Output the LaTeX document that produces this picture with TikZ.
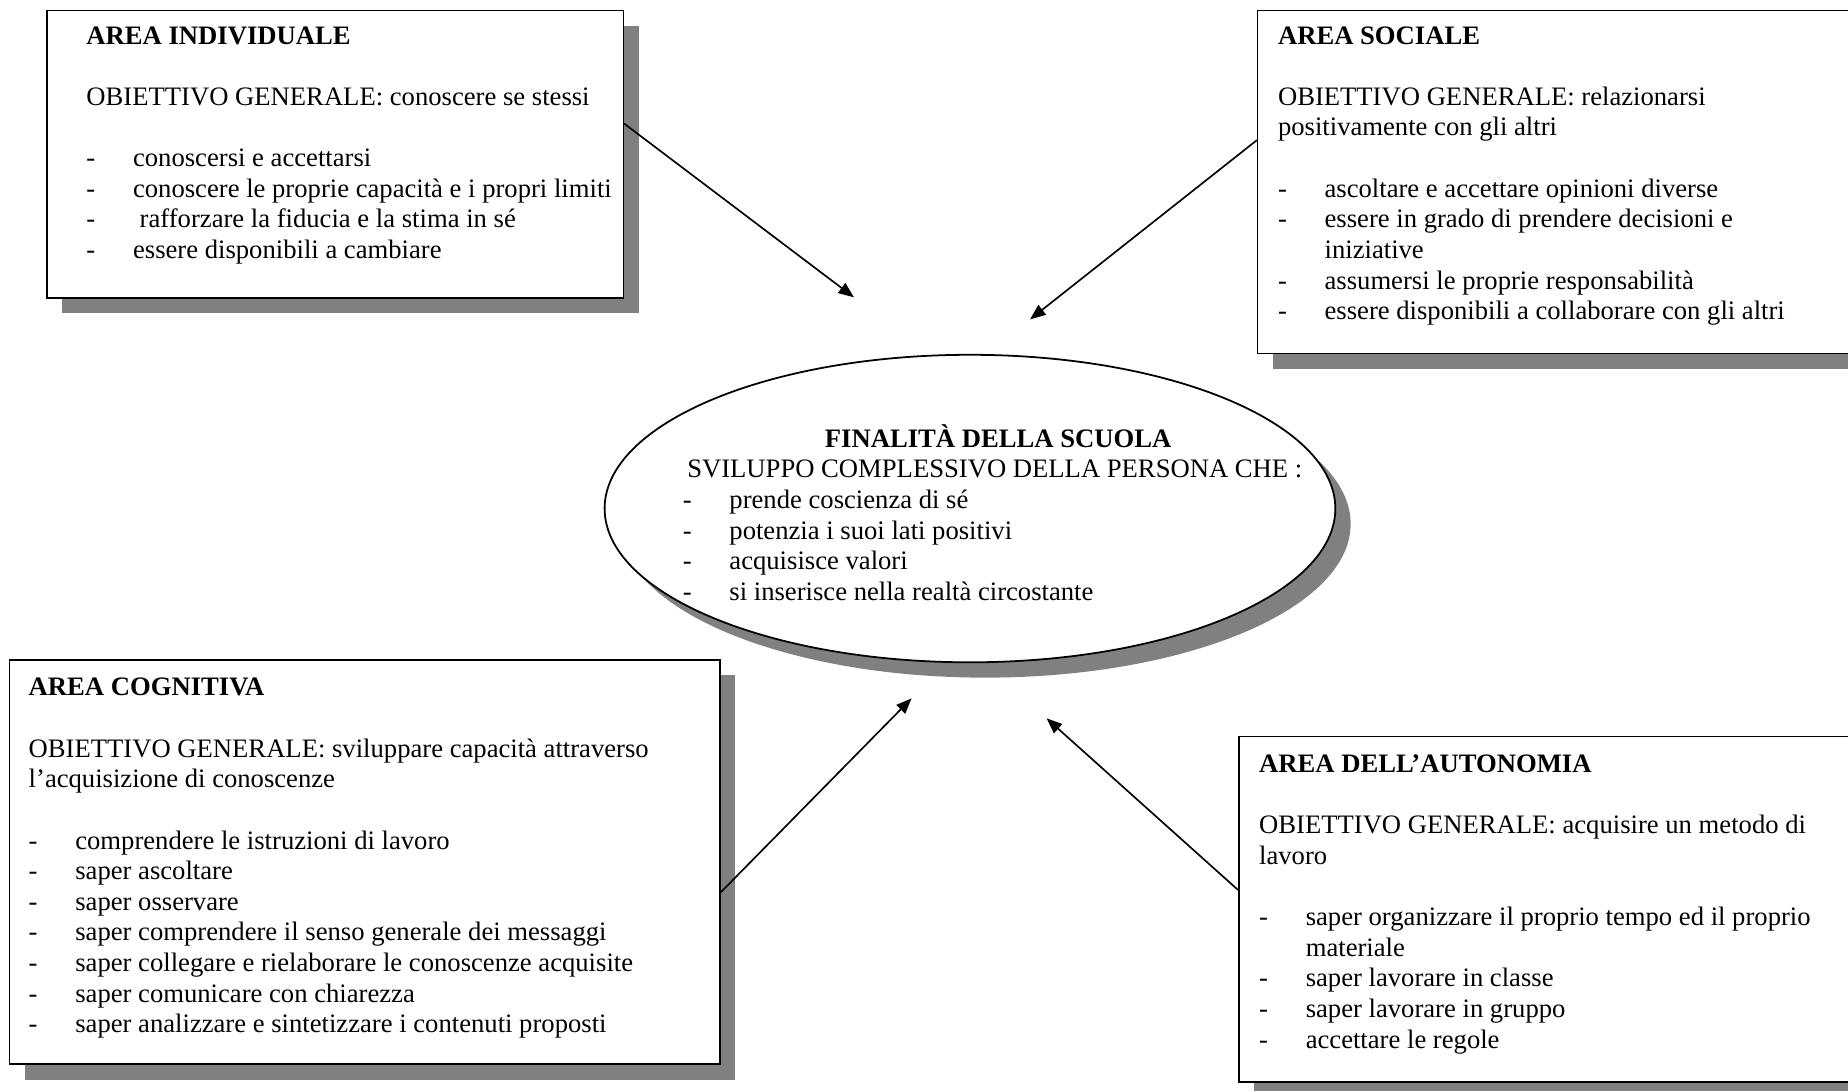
\documentclass[tikz,border=0pt]{standalone}
\usepackage{fontspec}
\setmainfont{Liberation Serif}
\usetikzlibrary{arrows.meta,shapes.geometric,shadows,fit}

\newcommand{\voce}[1]{\makebox[21pt][l]{-}#1}
\newcommand{\primariga}{\rule{0pt}{12pt}}

\begin{document}
\begin{tikzpicture}[line cap=round, x=0.5308pt, y=-0.5308pt,
    area/.style={draw, line width=0.8pt, fill=white, inner sep=0pt,
      drop shadow={shadow xshift=6.9pt, shadow yshift=-6.9pt, fill=gray, opacity=1}},
    testo/.style={anchor=north west, inner sep=0pt, align=left,
      font=\fontsize{12}{13.8}\selectfont},
    freccia/.style={line width=0.75pt, -{Triangle[length=7pt, width=5.5pt]}}]

    \clip (0,0) rectangle (1568,925);

    % riquadri delle aree e finalita
    \node[area, fit={(40,9) (529,253)}] (ind) {};
    \node[area, fit={(1067,9) (1600,300)}] (soc) {};
    \node[area, fit={(8,560) (611,903)}] (cog) {};
    \node[area, fit={(1051,625) (1600,918)}] (aut) {};
    \node[area, ellipse, minimum width=329.1pt, minimum height=138.5pt] (fin) at (823,431.5) {};

    \node[testo] (ind-txt) at (73,14.4) {\primariga\textbf{AREA INDIVIDUALE}\\[13.8pt]
        OBIETTIVO GENERALE: conoscere se stessi\\[13.8pt]
        \voce{conoscersi e accettarsi}\\
        \voce{conoscere le proprie capacità e i propri limiti}\\
        \voce{\ rafforzare la fiducia e la stima in sé}\\
        \voce{essere disponibili a cambiare}};

    \node[testo] (soc-txt) at (1084,14.4) {\primariga\textbf{AREA SOCIALE}\\[13.8pt]
        OBIETTIVO GENERALE: relazionarsi\\
        positivamente con gli altri\\[13.8pt]
        \voce{ascoltare e accettare opinioni diverse}\\
        \voce{essere in grado di prendere decisioni e}\\
        \hspace*{21pt}iniziative\\
        \voce{assumersi le proprie responsabilità}\\
        \voce{essere disponibili a collaborare con gli altri}};

    \node[testo] (fin-txt) at (579,356.4) {\primariga\hspace*{64pt}\textbf{FINALITÀ DELLA SCUOLA}\\
        \hspace*{2pt}SVILUPPO COMPLESSIVO DELLA PERSONA CHE :\\
        \voce{prende coscienza di sé}\\
        \voce{potenzia i suoi lati positivi}\\
        \voce{acquisisce valori}\\
        \voce{si inserisce nella realtà circostante}};

    \node[testo] (cog-txt) at (24,567.4) {\primariga\textbf{AREA COGNITIVA}\\[13.8pt]
        OBIETTIVO GENERALE: sviluppare capacità attraverso\\
        l’acquisizione di conoscenze\\[13.8pt]
        \voce{comprendere le istruzioni di lavoro}\\
        \voce{saper ascoltare}\\
        \voce{saper osservare}\\
        \voce{saper comprendere il senso generale dei messaggi}\\
        \voce{saper collegare e rielaborare le conoscenze acquisite}\\
        \voce{saper comunicare con chiarezza}\\
        \voce{saper analizzare e sintetizzare i contenuti proposti}};

    \node[testo] (aut-txt) at (1068,632.4) {\primariga\textbf{AREA DELL’AUTONOMIA}\\[13.8pt]
        OBIETTIVO GENERALE: acquisire un metodo di\\
        lavoro\\[13.8pt]
        \voce{saper organizzare il proprio tempo ed il proprio}\\
        \hspace*{21pt}materiale\\
        \voce{saper lavorare in classe}\\
        \voce{saper lavorare in gruppo}\\
        \voce{accettare le regole}};

    % frecce verso la finalita
    \coordinate (p-ind) at (724.6,252.3);
    \coordinate (p-soc) at (874,271);
    \coordinate (p-cog) at (773.5,592.5);
    \coordinate (p-aut) at (888,609.5);

    \draw[freccia] ([yshift=13.8pt]ind.east) -- (p-ind);
    \draw[freccia] ([yshift=18.8pt]soc.west) -- (p-soc);
    \draw[freccia] ([yshift=-13.5pt]cog.east) -- (p-cog);
    \draw[freccia] ([yshift=8.8pt]aut.west) -- (p-aut);

\end{tikzpicture}
\end{document}
